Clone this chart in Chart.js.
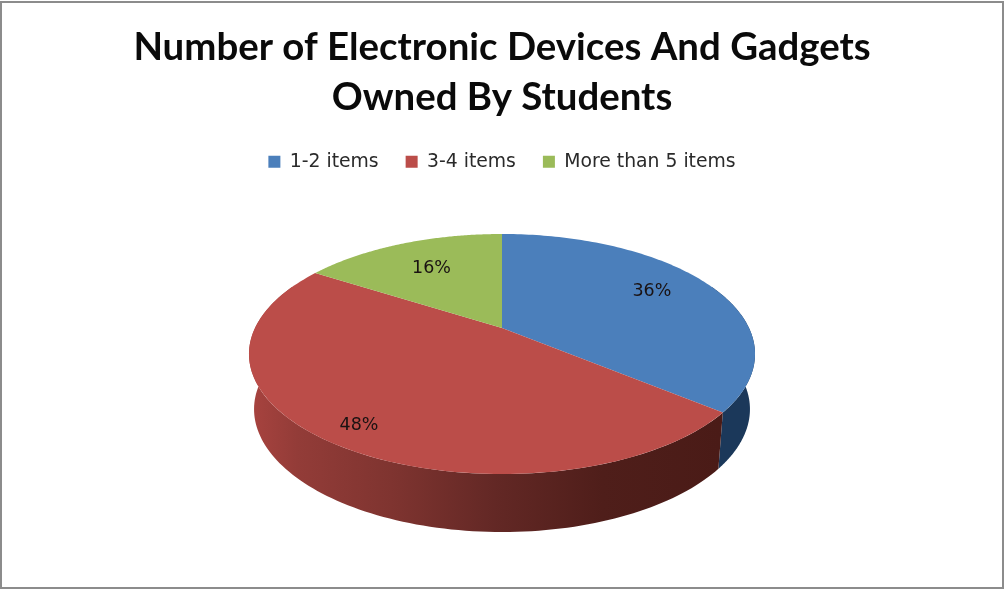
<!DOCTYPE html>
<html>
<head>
<meta charset="utf-8">
<title>Electronic Devices And Gadgets</title>
<script src="https://cdn.jsdelivr.net/npm/chart.js@4"></script>
<style>
  body { margin: 0; background: #fff; }
  canvas { display: block; }
</style>
</head>
<body>
<canvas id="pieChart" width="1004" height="589"></canvas>
<script>
const chartTitle = ["Number of Electronic Devices And Gadgets", "Owned By Students"];
const categories = ["1-2 items", "3-4 items", "More than 5 items"];
const percentages = [36, 48, 16];
const sliceColors = ["#4b7fbb", "#bb4d49", "#9bbb59"];

// Tilted disc: the plate is a circle seen in perspective, so its centre sits above the ellipse middle
const centerX = 502;
const apexY = 328;
const discRadius = 247;
const tiltA = 43.3;
const tiltC = -0.2167;
const rimShrink = 0.98;

function topPoint(angle, r) {
  const u = Math.cos(angle) * r;
  const v = Math.sin(angle) * r;
  const w = 1 + tiltC * v;
  return { x: centerX + (discRadius * u) / w, y: (tiltA * v + apexY) / w };
}

function bottomPoint(angle) {
  const p = topPoint(angle, 1);
  const v = Math.max(Math.sin(angle), 0);
  return { x: centerX + (p.x - centerX) * rimShrink, y: p.y + 55 + 3 * v * v };
}

function sideFill(ctx, index) {
  if (index === 0) {
    return "#1b385a";
  }
  const g = ctx.createLinearGradient(250, 0, 720, 0);
  g.addColorStop(0, "#a8433f");
  g.addColorStop(0.1, "#933c38");
  g.addColorStop(0.3, "#7f3430");
  g.addColorStop(0.52, "#632825");
  g.addColorStop(0.75, "#4f1e1a");
  g.addColorStop(1, "#4a1b17");
  return g;
}

const tiltedPie = {
  id: "tiltedPie",
  beforeDraw(chart) {
    const ctx = chart.ctx;
    ctx.save();
    ctx.fillStyle = "#fff";
    ctx.fillRect(0, 0, chart.width, chart.height);
    ctx.strokeStyle = "#8c8c8c";
    ctx.lineWidth = 2;
    ctx.strokeRect(1, 2, chart.width - 2, chart.height - 3);
    ctx.restore();
  },
  // The arcs keep their computed angles, only the way they are painted changes
  beforeDatasetsDraw(chart) {
    const ctx = chart.ctx;
    const arcs = chart.getDatasetMeta(0).data;
    const steps = 120;

    // outer wall, only the part facing the viewer
    arcs.forEach((arc, i) => {
      const from = Math.max(arc.startAngle, -0.4);
      const to = Math.min(arc.endAngle, Math.PI + 0.4);
      if (to <= from) return;
      ctx.beginPath();
      for (let s = 0; s <= steps; s++) {
        const p = topPoint(from + ((to - from) * s) / steps, 1);
        ctx.lineTo(p.x, p.y);
      }
      for (let s = steps; s >= 0; s--) {
        const p = bottomPoint(from + ((to - from) * s) / steps);
        ctx.lineTo(p.x, p.y);
      }
      ctx.closePath();
      ctx.fillStyle = sideFill(ctx, i);
      ctx.fill();
    });

    // top face
    arcs.forEach((arc) => {
      ctx.beginPath();
      ctx.moveTo(centerX, apexY);
      for (let s = 0; s <= steps; s++) {
        const p = topPoint(arc.startAngle + ((arc.endAngle - arc.startAngle) * s) / steps, 1);
        ctx.lineTo(p.x, p.y);
      }
      ctx.closePath();
      ctx.fillStyle = arc.options.backgroundColor;
      ctx.fill();
    });

    // percentage labels
    const labelRadii = [0.73, 0.86, 0.7];
    const labelShift = [[-3, -3], [4, 4], [3, 2]];
    ctx.fillStyle = "#1a1212";
    ctx.font = "17.5px 'DejaVu Sans'";
    ctx.textAlign = "center";
    ctx.textBaseline = "middle";
    arcs.forEach((arc, i) => {
      const p = topPoint((arc.startAngle + arc.endAngle) / 2, labelRadii[i]);
      ctx.fillText(percentages[i] + "%", p.x + labelShift[i][0], p.y + labelShift[i][1]);
    });
    return false;
  },
};

new Chart(document.getElementById("pieChart"), {
  type: "pie",
  data: {
    labels: categories,
    datasets: [
      {
        data: percentages,
        backgroundColor: sliceColors,
        borderWidth: 0,
      },
    ],
  },
  plugins: [tiltedPie],
  options: {
    responsive: false,
    animation: false,
    plugins: {
      tooltip: { enabled: false },
      title: {
        display: true,
        text: chartTitle,
        color: "#0a0a0a",
        font: { family: "Lato", size: 38.4, weight: "bold", lineHeight: 1.32 },
        padding: { top: 22, bottom: 2 },
      },
      legend: {
        position: "top",
        labels: {
          boxWidth: 12,
          boxHeight: 12,
          padding: 27,
          color: "#2a2a2a",
          font: { family: "DejaVu Sans", size: 18.8 },
        },
      },
    },
  },
});
</script>
</body>
</html>
